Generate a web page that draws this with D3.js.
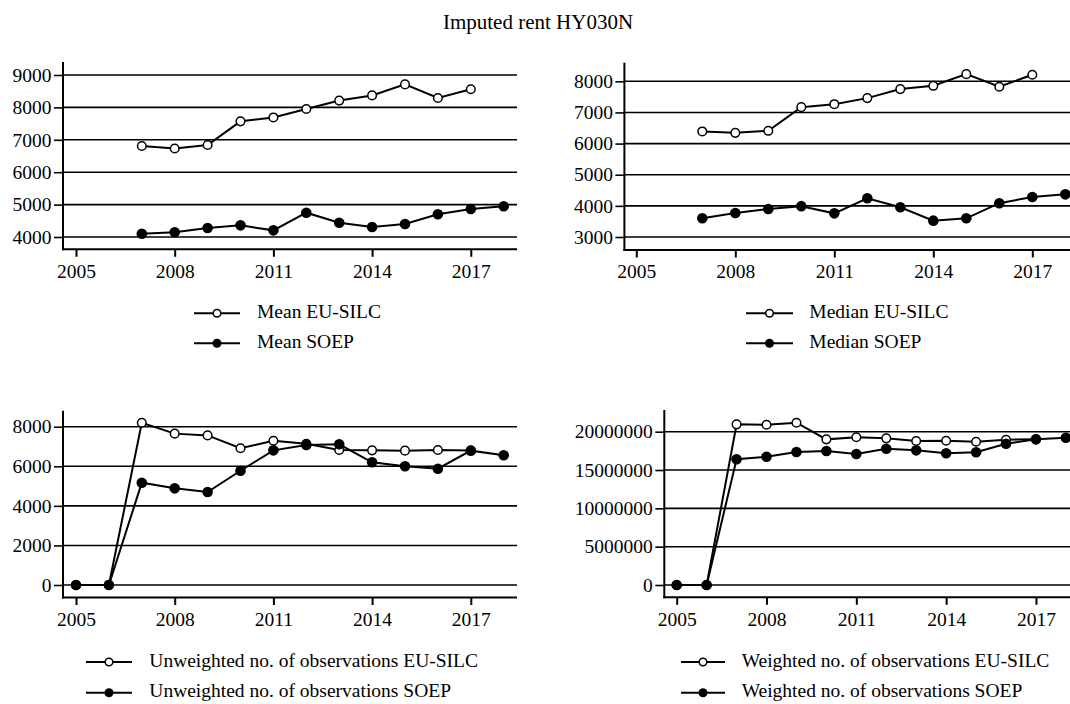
<!DOCTYPE html>
<html>
<head>
<meta charset="utf-8">
<script src="https://cdn.jsdelivr.net/npm/d3@7"></script>
<style>
  html, body { margin: 0; padding: 0; background: #fff; }
  svg { display: block; }
  svg text { font-family: "Liberation Serif", "Times New Roman", serif !important; fill: #000; }
</style>
</head>
<body>
<svg id="chart" width="1070" height="704"></svg>
<script>
// ---------------- data ----------------
const title = "Imputed rent HY030N";
const xTickYears = [2005, 2008, 2011, 2014, 2017];

const yearsA = [2007, 2008, 2009, 2010, 2011, 2012, 2013, 2014, 2015, 2016, 2017];
const yearsB = [2007, 2008, 2009, 2010, 2011, 2012, 2013, 2014, 2015, 2016, 2017, 2018];
const yearsC = [2005, 2006, 2007, 2008, 2009, 2010, 2011, 2012, 2013, 2014, 2015, 2016, 2017];
const yearsD = [2005, 2006, 2007, 2008, 2009, 2010, 2011, 2012, 2013, 2014, 2015, 2016, 2017, 2018];

const meanEUSILC = [6810, 6730, 6840, 7570, 7690, 7950, 8210, 8370, 8710, 8290, 8560];
const meanSOEP = [4100, 4145, 4280, 4360, 4205, 4750, 4440, 4310, 4400, 4700, 4865, 4950];

const medianEUSILC = [6390, 6345, 6410, 7170, 7265, 7460, 7750, 7855, 8230, 7825, 8210];
const medianSOEP = [3600, 3770, 3900, 3990, 3760, 4245, 3955, 3525, 3600, 4085, 4285, 4370];

const unweightedEUSILC = [0, 0, 8200, 7650, 7560, 6910, 7290, 7140, 6820, 6805, 6790, 6820, 6800];
const unweightedSOEP = [0, 0, 5170, 4885, 4700, 5775, 6805, 7075, 7110, 6200, 6000, 5875, 6790, 6555];

const weightedEUSILC = [0, 0, 20960000, 20900000, 21170000, 19000000, 19270000, 19130000, 18780000, 18820000, 18690000, 18950000, 19000000];
const weightedSOEP = [0, 0, 16400000, 16740000, 17350000, 17480000, 17090000, 17780000, 17570000, 17180000, 17310000, 18430000, 19000000, 19220000];

const ticksMean = [4000, 5000, 6000, 7000, 8000, 9000];
const ticksMedian = [3000, 4000, 5000, 6000, 7000, 8000];
const ticksUnweighted = [0, 2000, 4000, 6000, 8000];
const ticksWeighted = [0, 5000000, 10000000, 15000000, 20000000];

const legendMean = ["Mean EU-SILC", "Mean SOEP"];
const legendMedian = ["Median EU-SILC", "Median SOEP"];
const legendUnweighted = ["Unweighted no. of observations EU-SILC", "Unweighted no. of observations SOEP"];
const legendWeighted = ["Weighted no. of observations EU-SILC", "Weighted no. of observations SOEP"];

// ---------------- layout ----------------
const FONT = 19.5;
const FAMILY = "Liberation Serif, Times New Roman, serif";
const svg = d3.select("#chart");

svg.append("text")
  .attr("x", 538).attr("y", 28.5)
  .attr("text-anchor", "middle")
  .attr("font-family", FAMILY)
  .style("font-size", "21px")
  .text(title);

const panels = [
  { open: [yearsA, meanEUSILC], filled: [yearsB, meanSOEP], ticks: ticksMean, legend: legendMean,
    axisX: 63, right: 517, xr: [76, 503.7], yd: [4000, 9000], yr: [237, 75], base: 249.3, top: 62,
    leg: { x1: 194, x2: 240, tx: 257, y: [313.3, 343.3] } },
  { open: [yearsA, medianEUSILC], filled: [yearsB, medianSOEP], ticks: ticksMedian, legend: legendMedian,
    axisX: 624.4, right: 1085, xr: [636.3, 1065.3], yd: [3000, 8000], yr: [237, 81.3], base: 250, top: 62.7,
    leg: { x1: 746, x2: 793, tx: 809.3, y: [313.3, 343.3] } },
  { open: [yearsC, unweightedEUSILC], filled: [yearsD, unweightedSOEP], ticks: ticksUnweighted, legend: legendUnweighted,
    axisX: 63, right: 517, xr: [76, 503.7], yd: [0, 8000], yr: [585, 426.7], base: 597.5, top: 410.7,
    leg: { x1: 86, x2: 132, tx: 149.3, y: [662, 692.7] } },
  { open: [yearsC, weightedEUSILC], filled: [yearsD, weightedSOEP], ticks: ticksWeighted, legend: legendWeighted,
    axisX: 664.3, right: 1085, xr: [676.7, 1065.9], yd: [0, 20000000], yr: [585, 431.7], base: 597.3, top: 410,
    leg: { x1: 681, x2: 725, tx: 741.7, y: [662, 692.7] } }
];

panels.forEach(p => {
  const g = svg.append("g");
  const x = d3.scaleLinear().domain([2005, 2018]).range(p.xr);
  const y = d3.scaleLinear().domain(p.yd).range(p.yr);

  // gridlines
  g.selectAll("line.grid").data(p.ticks).join("line")
    .attr("x1", p.axisX).attr("x2", p.right)
    .attr("y1", d => y(d)).attr("y2", d => y(d))
    .attr("stroke", "#000").attr("stroke-width", 1.6);

  // y axis (stubs + labels)
  const ya = g.append("g").attr("transform", `translate(${p.axisX},0)`)
    .call(d3.axisLeft(y).tickValues(p.ticks).tickSize(9).tickPadding(2.5).tickFormat(d3.format("d")));
  ya.attr("font-family", FAMILY).attr("font-size", FONT);
  ya.select(".domain").remove();
  ya.selectAll(".tick line").attr("stroke", "#000").attr("stroke-width", 1.6);
  ya.selectAll(".tick text").attr("fill", "#000");

  // x axis
  const xa = g.append("g").attr("transform", `translate(0,${p.base})`)
    .call(d3.axisBottom(x).tickValues(xTickYears).tickSize(7.5).tickPadding(7).tickFormat(d3.format("d")));
  xa.attr("font-family", FAMILY).attr("font-size", FONT);
  xa.select(".domain").remove();
  xa.selectAll(".tick line").attr("stroke", "#000").attr("stroke-width", 2);
  xa.selectAll(".tick text").attr("fill", "#000");

  // axis lines
  g.append("line").attr("x1", p.axisX).attr("x2", p.axisX).attr("y1", p.top).attr("y2", p.base + 1)
    .attr("stroke", "#000").attr("stroke-width", 2);
  g.append("line").attr("x1", p.axisX - 1).attr("x2", p.right).attr("y1", p.base).attr("y2", p.base)
    .attr("stroke", "#000").attr("stroke-width", 2);

  const line = d3.line().x(d => x(d[0])).y(d => y(d[1]));
  const openData = p.open[0].map((yr, i) => [yr, p.open[1][i]]);
  const filledData = p.filled[0].map((yr, i) => [yr, p.filled[1][i]]);

  // open series
  g.append("path").datum(openData).attr("d", line)
    .attr("fill", "none").attr("stroke", "#000").attr("stroke-width", 2);
  g.selectAll("circle.o").data(openData).join("circle")
    .attr("cx", d => x(d[0])).attr("cy", d => y(d[1])).attr("r", 4.3)
    .attr("fill", "#fff").attr("stroke", "#000").attr("stroke-width", 1.5);

  // filled series
  g.append("path").datum(filledData).attr("d", line)
    .attr("fill", "none").attr("stroke", "#000").attr("stroke-width", 2);
  g.selectAll("circle.f").data(filledData).join("circle")
    .attr("cx", d => x(d[0])).attr("cy", d => y(d[1])).attr("r", 5.3)
    .attr("fill", "#000");

  // legend
  const L = p.leg;
  p.legend.forEach((lab, i) => {
    const ly = L.y[i];
    g.append("line").attr("x1", L.x1).attr("x2", L.x2).attr("y1", ly).attr("y2", ly)
      .attr("stroke", "#000").attr("stroke-width", 2);
    g.append("circle").attr("cx", (L.x1 + L.x2) / 2).attr("cy", ly).attr("r", i === 0 ? 3.8 : 4.5)
      .attr("fill", i === 0 ? "#fff" : "#000").attr("stroke", "#000").attr("stroke-width", i === 0 ? 1.5 : 0);
    g.append("text").attr("x", L.tx).attr("y", ly + 4.5)
      .attr("font-family", FAMILY)
      .style("font-size", FONT + "px").text(lab);
  });
});
</script>
</body>
</html>
